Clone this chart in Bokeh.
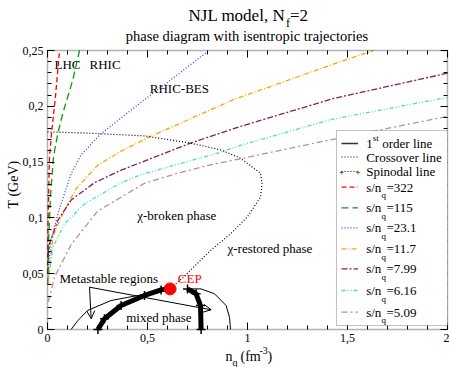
import math
from bokeh.plotting import figure
from bokeh.models import (Range1d, FixedTicker, LinearAxis, Label, Arrow,
                          OpenHead, BoxAnnotation)
from bokeh.embed import file_html
from bokeh.resources import INLINE

# ---------------- data ----------------
# isentropic trajectories: density n_q (fm^-3) and temperature T (GeV)
sn_labels = ["322", "115", "23.1", "11.7", "7.99", "6.16", "5.09"]

n_322 = [0.0005, 0.003, 0.010, 0.022, 0.040, 0.060]
T_322 = [0.050, 0.100, 0.155, 0.179, 0.209, 0.250]

n_115 = [0.002, 0.005, 0.015, 0.030, 0.052, 0.077, 0.127, 0.160]
T_115 = [0.040, 0.077, 0.120, 0.155, 0.176, 0.194, 0.224, 0.250]

n_231 = [0.004, 0.018, 0.052, 0.118, 0.170, 0.265, 0.485, 0.600, 0.800]
T_231 = [0.055, 0.080, 0.104, 0.1395, 0.157, 0.175, 0.206, 0.2215, 0.249]

n_117 = [0.003, 0.027, 0.068, 0.140, 0.250, 0.360, 0.515, 0.930, 1.465, 1.630]
T_117 = [0.040, 0.083, 0.1006, 0.1255, 0.147, 0.159, 0.173, 0.206, 0.240, 0.250]

n_799 = [0.003, 0.010, 0.052, 0.118, 0.235, 0.365, 0.500, 0.715, 0.965, 1.430, 2.000]
T_799 = [0.065, 0.077, 0.098, 0.116, 0.1315, 0.1425, 0.152, 0.167, 0.182, 0.207, 0.2297]

n_616 = [0.003, 0.027, 0.085, 0.185, 0.368, 0.465, 0.850, 0.965, 1.415, 2.000]
T_616 = [0.045, 0.0737, 0.0947, 0.1126, 0.1315, 0.1386, 0.158, 0.165, 0.188, 0.208]

n_509 = [0.005, 0.035, 0.118, 0.250, 0.485, 0.650, 0.815, 0.965, 1.415, 2.000]
T_509 = [0.025, 0.047, 0.076, 0.106, 0.131, 0.140, 0.1476, 0.153, 0.170, 0.191]

# crossover line (dotted), ends at the CEP
n_cross = [0.0, 0.2, 0.485, 0.715, 0.865, 0.965, 1.065, 1.073, 1.065, 0.998,
           0.915, 0.815, 0.730, 0.680, 0.613]
T_cross = [0.177, 0.176, 0.1735, 0.167, 0.161, 0.1535, 0.140, 0.1305, 0.1186,
           0.1006, 0.0857, 0.0708, 0.0558, 0.047, 0.0364]

# first order line (two branches)
n_fo_left = [0.118, 0.152, 0.200, 0.318, 0.468, 0.613]
T_fo_left = [0.000, 0.008, 0.017, 0.026, 0.031, 0.0364]
n_fo_right = [0.700, 0.768, 0.835, 0.893, 0.910, 0.915]
T_fo_right = [0.0364, 0.0364, 0.032, 0.0215, 0.011, 0.000]

# spinodal lines
n_sp_left = [0.252, 0.285, 0.368, 0.485, 0.568, 0.600]
T_sp_left = [0.000, 0.0096, 0.0215, 0.0305, 0.0355, 0.0364]
n_sp_right = [0.700, 0.743, 0.765, 0.768]
T_sp_right = [0.0364, 0.032, 0.0215, 0.000]

cep_n = [0.613]
cep_T = [0.0364]

x_ticks = [0, 0.5, 1, 1.5, 2]
x_tick_labels = ["0", "0,5", "1", "1,5", "2"]
y_ticks = [0, 0.05, 0.1, 0.15, 0.2, 0.25]
y_tick_labels = ["0", "0,05", "0,1", "0,15", "0,2", "0,25"]
x_minor = [i / 10 for i in range(21)]
y_minor = [i / 100 for i in range(26)]
x_lim = (0, 2)
y_lim = (0, 0.25)

# ---------------- styles ----------------
FONT = "Liberation Serif"
traj_styles = [
    ("#ff0000", "5 3"),
    ("#00a000", "7 4"),
    ("#3c3cff", "1 2"),
    ("#ffa500", "5 2 1 2"),
    ("#80205f", "6 2 2 2"),
    ("#40e0d0", "4 2 1 2 1 2"),
    ("#bc8f8f", "6 3 2 3"),
]
trajs = [(n_322, T_322), (n_115, T_115), (n_231, T_231), (n_117, T_117),
         (n_799, T_799), (n_616, T_616), (n_509, T_509)]

W, H = 449, 367
# page-pixel -> data helpers (plot box spans px 47..447, py 50..329)
def nx(px):
    return (px - 47) / 200.0

def ty(py):
    return (329 - py) / 1116.0

p = figure(width=W, height=H, output_backend="svg", title=None,
           toolbar_location=None,
           x_range=Range1d(nx(0), nx(W)), y_range=Range1d(ty(H), ty(0)),
           min_border=0, min_border_left=0, min_border_right=0,
           min_border_top=0, min_border_bottom=0,
           background_fill_color="white", border_fill_color="white")
p.grid.visible = False
p.outline_line_color = None

def style_axis(ax, ticks, minor, labels, show_labels, loc, bounds):
    ax.fixed_location = loc
    ax.bounds = bounds
    ax.ticker = FixedTicker(ticks=ticks, minor_ticks=minor)
    ax.major_tick_in = 7
    ax.major_tick_out = 0
    ax.minor_tick_in = 4
    ax.minor_tick_out = 0
    ax.major_tick_line_color = "black"
    ax.minor_tick_line_color = "black"
    ax.major_tick_line_width = 1
    ax.axis_line_color = None
    if show_labels:
        ax.major_label_overrides = {t: l for t, l in zip(ticks, labels)}
        ax.major_label_text_font = FONT
        ax.major_label_text_font_size = "12px"
        ax.major_label_text_color = "black"
        ax.major_label_standoff = 4
    else:
        ax.major_label_overrides = {t: "" for t in ticks}
        ax.major_label_text_font_size = "1px"
        ax.major_label_standoff = 0

style_axis(p.xaxis[0], x_ticks, x_minor, x_tick_labels, True, y_lim[0], x_lim)
style_axis(p.yaxis[0], y_ticks, y_minor, y_tick_labels, True, x_lim[0], y_lim)
top_ax = LinearAxis()
right_ax = LinearAxis()
style_axis(top_ax, x_ticks, x_minor, x_tick_labels, False, y_lim[1], x_lim)
style_axis(right_ax, y_ticks, y_minor, y_tick_labels, False, x_lim[1], y_lim)
p.add_layout(top_ax, "above")
p.add_layout(right_ax, "right")

# ---------------- curves ----------------
for (nn, tt), (col, dash) in zip(trajs, traj_styles):
    p.line(nn, tt, line_color=col, line_dash=dash, line_width=1.3)

p.line(n_cross, T_cross, line_color="black", line_dash="1 2", line_width=1.2)
p.line(n_fo_left, T_fo_left, line_color="black", line_width=1)
p.line(n_fo_right, T_fo_right, line_color="black", line_width=1)
for nn, tt in [(n_sp_left, T_sp_left), (n_sp_right, T_sp_right)]:
    p.line(nn, tt, line_color="black", line_width=5)
    p.scatter(nn, tt, marker="cross", size=9, line_color="black", line_width=1.5)
p.scatter(cep_n, cep_T, size=12, fill_color="#ff0000", line_color="#ff0000")

# plot box
p.add_layout(BoxAnnotation(left=x_lim[0], right=x_lim[1], bottom=y_lim[0], top=y_lim[1],
                           fill_alpha=0, line_color="black", line_width=1.5))

# ---------------- texts ----------------
def lab(text, px, py, size="13px", color="black", align="left", angle=0.0):
    p.add_layout(Label(x=nx(px), y=ty(py), text=text, text_font=FONT,
                       text_font_size=size, text_color=color, text_align=align,
                       text_baseline="middle", angle=angle))

# title
lab("NJL model, N", 188, 15, size="17px")
lab("f", 285.5, 22, size="12px")
lab("=2", 289.5, 15, size="17px")
lab("phase diagram with isentropic trajectories", 246.5, 35, size="14.5px",
    align="center")

# axis titles
lab("T (GeV)", 13, 184, size="14px", align="center", angle=math.pi / 2)
lab("n", 225, 356, size="14px")
lab("q", 232, 362, size="10px")
lab("(fm", 240, 356, size="14px")
lab("-3", 259, 350, size="10px")
lab(")", 267, 356, size="14px")

# in-plot annotations
lab("LHC", 54, 64.3)
lab("RHIC", 89, 64.3)
lab("RHIC-BES", 149.3, 87.7)
lab("\u03c7-broken phase", 136.7, 215)
lab("\u03c7-restored phase", 227, 248.3)
lab("Metastable regions", 59, 277.7)
lab("CEP", 177.3, 277.7, color="#ff0000")
lab("mixed phase", 125.7, 316.7)

for ex, ey in [(90.7, 318.3), (210.7, 309.3)]:
    p.add_layout(Arrow(x_start=nx(89), y_start=ty(286.7), x_end=nx(ex), y_end=ty(ey),
                       line_color="black", line_width=1,
                       end=OpenHead(size=8, line_width=1, line_color="black")))

# ---------------- legend ----------------
p.add_layout(BoxAnnotation(left=nx(336), right=x_lim[1], top=ty(130), bottom=ty(325),
                           fill_color="white", fill_alpha=1.0,
                           line_color="#333333", line_width=1))

def sample(py, color, dash, width=1.3):
    p.add_layout(Arrow(x_start=nx(341), y_start=ty(py), x_end=nx(357.5), y_end=ty(py),
                       line_color=color, line_dash=dash, line_width=width, end=None))

sample(143, "#333333", "solid", 1.5)
lab("1", 365.7, 143)
lab("st", 372.2, 137, size="9px")
lab("order line", 381.7, 143)

sample(156.5, "black", "1 2", 1.2)
lab("Crossover line", 365.7, 156.5)

sample(171, "black", "1 2", 1.2)
lab("+", 341, 171, size="9px", align="center")
lab("+", 357.5, 171, size="9px", align="center")
lab("Spinodal line", 365.7, 171)

rows = [186.7, 207.3, 227.3, 248.3, 268.3, 290, 311.7]
for ry, txt, (col, dash) in zip(rows, sn_labels, traj_styles):
    sample(ry, col, dash)
    lab("s/n", 365.7, ry)
    lab("q", 381, ry + 8, size="9px")
    lab("=" + txt, 386, ry)

open("out.html", "w").write(file_html(p, INLINE))
